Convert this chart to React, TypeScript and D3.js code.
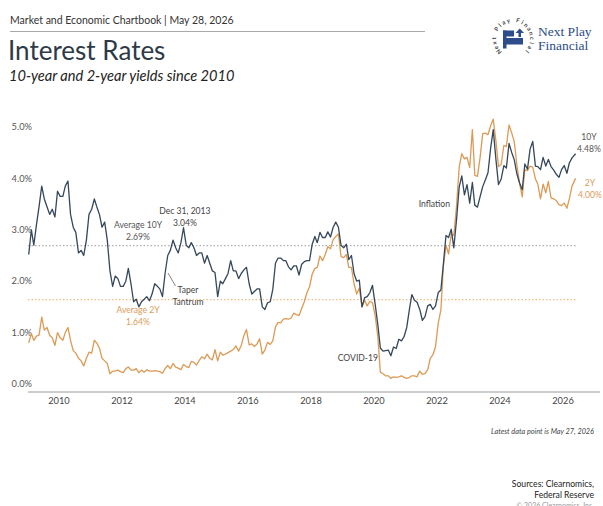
import React, { useEffect } from 'react'
import * as d3 from 'd3'

// monthly yields, Jan 2009 .. May 2026 (last point = May 27, 2026)
const tenYear = [
  2.52, 3.0, 2.7, 3.1, 3.45, 3.85, 3.6, 3.45, 3.3, 3.4, 3.25, 3.75,
  3.65, 3.65, 3.85, 3.95, 3.3, 3.05, 2.95, 2.55, 2.6, 2.5, 2.8, 3.3,
  3.4, 3.6, 3.45, 3.3, 3.05, 3.15, 2.8, 2.2, 1.9, 2.1, 2.05, 1.9,
  1.9, 2.0, 2.25, 1.95, 1.6, 1.65, 1.5, 1.6, 1.65, 1.7, 1.62, 1.75,
  1.95, 1.9, 1.85, 1.7, 2.15, 2.5, 2.6, 2.8, 2.65, 2.55, 2.75, 3.04,
  2.7, 2.65, 2.75, 2.65, 2.5, 2.55, 2.55, 2.35, 2.5, 2.35, 2.2, 2.17,
  1.7, 2.0, 1.95, 2.05, 2.15, 2.4, 2.2, 2.2, 2.05, 2.15, 2.22, 2.27,
  1.95, 1.75, 1.8, 1.85, 1.85, 1.5, 1.45, 1.58, 1.6, 1.84, 2.35, 2.45,
  2.45, 2.4, 2.4, 2.28, 2.22, 2.3, 2.3, 2.12, 2.33, 2.38, 2.4, 2.4,
  2.72, 2.87, 2.75, 2.95, 2.85, 2.85, 2.96, 2.86, 3.05, 3.15, 3.05, 2.7,
  2.65, 2.72, 2.42, 2.5, 2.15, 2.0, 2.02, 1.5, 1.68, 1.7, 1.78, 1.92,
  1.55, 1.15, 0.7, 0.64, 0.65, 0.66, 0.55, 0.72, 0.69, 0.87, 0.84, 0.92,
  1.1, 1.45, 1.74, 1.63, 1.59, 1.45, 1.24, 1.31, 1.52, 1.55, 1.45, 1.52,
  1.78, 1.83, 2.32, 2.89, 2.85, 3.01, 2.65, 3.19, 3.83, 4.05, 3.68, 3.88,
  3.52, 3.92, 3.48, 3.44, 3.64, 3.84, 3.97, 4.11, 4.59, 4.95, 4.37, 3.88,
  3.99, 4.25, 4.2, 4.68, 4.51, 4.36, 4.09, 3.91, 3.78, 4.28, 4.18, 4.57,
  4.72, 4.24, 4.23, 4.17, 4.41, 4.24, 4.37, 4.23, 4.16, 4.08, 4.02, 4.17,
  4.25, 4.1, 4.3, 4.4, 4.48,
]

const twoYear = [
  0.8, 0.98, 0.85, 0.93, 0.95, 1.3, 1.05, 1.1, 0.95, 0.9, 0.75, 1.0,
  0.9, 0.85, 1.0, 1.1, 0.85, 0.65, 0.6, 0.5, 0.45, 0.35, 0.5, 0.62,
  0.6, 0.85, 0.8, 0.7, 0.5, 0.45, 0.4, 0.2, 0.25, 0.25, 0.27, 0.24,
  0.22, 0.3, 0.33, 0.27, 0.27, 0.3, 0.22, 0.27, 0.23, 0.28, 0.25, 0.25,
  0.26, 0.25, 0.24, 0.21, 0.3, 0.36, 0.3, 0.4, 0.33, 0.31, 0.28, 0.38,
  0.34, 0.32, 0.44, 0.42, 0.37, 0.46, 0.53, 0.49, 0.58, 0.5, 0.47, 0.67,
  0.45, 0.62, 0.56, 0.58, 0.61, 0.64, 0.67, 0.74, 0.64, 0.75, 0.94, 1.06,
  0.76, 0.78, 0.73, 0.78, 0.88, 0.58, 0.66, 0.81, 0.77, 0.84, 1.11, 1.2,
  1.19, 1.26, 1.27, 1.26, 1.28, 1.38, 1.35, 1.33, 1.47, 1.6, 1.78, 1.89,
  2.14, 2.25, 2.27, 2.49, 2.4, 2.52, 2.67, 2.63, 2.81, 2.87, 2.92, 2.48,
  2.46, 2.52, 2.27, 2.27, 1.95, 1.75, 1.87, 1.5, 1.63, 1.52, 1.61, 1.58,
  1.33, 0.92, 0.23, 0.2, 0.16, 0.16, 0.11, 0.14, 0.13, 0.14, 0.16, 0.13,
  0.11, 0.13, 0.16, 0.16, 0.14, 0.25, 0.19, 0.2, 0.28, 0.5, 0.57, 0.73,
  1.18, 1.44, 2.28, 2.7, 2.53, 2.92, 2.89, 3.45, 4.22, 4.48, 4.38, 4.41,
  4.21, 4.95, 4.06, 4.04, 4.4, 4.87, 4.88, 4.85, 5.03, 5.15, 4.73, 4.23,
  4.27, 4.64, 4.62, 5.04, 4.89, 4.71, 4.26, 3.91, 3.64, 4.17, 4.15, 4.24,
  4.22, 3.99, 3.89, 3.6, 3.89, 3.72, 3.94, 3.62, 3.6, 3.57, 3.49, 3.47,
  3.52, 3.42, 3.6, 3.85, 4.0,
]

const avgTen = 2.69
const avgTwo = 1.64
const yTicks = [0, 1, 2, 3, 4, 5]
const xYears = [2010, 2012, 2014, 2016, 2018, 2020, 2022, 2024, 2026]
const ringText = 'Next Play Financial'

const TEN = '#34475b'
const TWO = '#dc9a55'
const NAVY = '#2c4c8c'
const FONT = 'Lato, "Noto Sans", sans-serif'
const SERIF = '"Liberation Serif", "DejaVu Serif", serif'

const dates = tenYear.map((_, i) =>
  i === tenYear.length - 1 ? new Date(2026, 4, 27) : new Date(2009, i, 15)
)

const App = () => {
  useEffect(() => {
    document.body.style.margin = '0'
  }, [])

  const x = d3
    .scaleTime()
    .domain([new Date(2009, 0, 1), new Date(2027, 0, 1)])
    .range([27.5, 594.5])
  const y = d3.scaleLinear().domain([0, 5]).range([384, 127])

  const line = d3
    .line<number>()
    .x((_, i) => x(dates[i]))
    .y((d) => y(d))

  const lastX = x(dates[dates.length - 1])
  const dec2013 = x(new Date(2013, 11, 31))

  // logo ring letters, clockwise from lower-left to lower-right
  const cx = 513
  const cy = 39
  const r = 17
  const ang = d3.scaleLinear().domain([0, ringText.length - 1]).range([-132, 132])
  const chars = ringText.split('')

  return (
    <svg width={603} height={506} style={{ display: 'block' }} fontFamily={FONT}>
      <rect width={603} height={506} fill="#fff" />

      {/* header */}
      <text x={10} y={24} fontSize={10.5} fill="#333">
        Market and Economic Chartbook | May 28, 2026
      </text>
      <line x1={10} x2={425} y1={31.5} y2={31.5} stroke="#aaa" strokeWidth={1} />
      <text x={8} y={60} fontSize={26} fill="#2e3a46">
        Interest Rates
      </text>
      <text x={9} y={81} fontSize={14.6} fill="#222" fontStyle="italic">
        10-year and 2-year yields since 2010
      </text>

      {/* logo */}
      <g>
        {chars.map((c, i) => {
          const a = ang(i)
          const rad = (a * Math.PI) / 180
          const px = cx + r * Math.sin(rad)
          const py = cy - r * Math.cos(rad)
          return c === ' ' ? null : (
            <text
              key={i}
              x={0}
              y={0}
              fontSize={6}
              fontWeight={700}
              fill="#444"
              textAnchor="middle"
              transform={`translate(${px},${py}) rotate(${a})`}
            >
              {c}
            </text>
          )
        })}
        <rect x={503} y={30.5} width={11} height={6} fill={NAVY} />
        <rect x={503} y={38} width={20} height={6.5} fill={NAVY} />
        <rect x={503} y={30.5} width={3.5} height={18} fill={NAVY} />
        <rect x={518.5} y={32} width={2.5} height={5} fill={NAVY} />
        <path d="M515.5,33 L519.75,28.5 L524,33 Z" fill={NAVY} />
        <text x={538} y={36} fontSize={13.5} fill={NAVY} fontFamily={SERIF}>
          Next Play
        </text>
        <text x={538} y={49.5} fontSize={13.5} fill={NAVY} fontFamily={SERIF}>
          Financial
        </text>
      </g>

      {/* y axis labels */}
      {yTicks.map((t) => (
        <text key={t} x={32} y={y(t)} dy="0.35em" fontSize={9.3} fill="#555" textAnchor="end">
          {t.toFixed(1)}%
        </text>
      ))}

      {/* x axis */}
      <line x1={28} x2={600} y1={392} y2={392} stroke="#bbb" strokeWidth={1.5} />
      {xYears.map((yr) => (
        <text key={yr} x={x(new Date(yr, 0, 1))} y={404} fontSize={9.3} fill="#444" textAnchor="middle">
          {yr}
        </text>
      ))}

      {/* averages */}
      <line x1={28} x2={lastX} y1={y(avgTen)} y2={y(avgTen)} stroke="#999" strokeWidth={1} strokeDasharray="1.5,2" />
      <line x1={28} x2={lastX} y1={y(avgTwo)} y2={y(avgTwo)} stroke="#f0aa66" strokeWidth={1} strokeDasharray="1.5,2" />

      {/* series */}
      <path d={line(twoYear) ?? ''} fill="none" stroke={TWO} strokeWidth={1.3} strokeLinejoin="round" />
      <path d={line(tenYear) ?? ''} fill="none" stroke={TEN} strokeWidth={1.3} strokeLinejoin="round" />

      {/* annotations */}
      <g fontSize={8.6} textAnchor="middle">
        <text x={138} y={228} fill="#555">Average 10Y</text>
        <text x={138} y={240} fill="#555">{avgTen.toFixed(2)}%</text>
        <text x={138} y={313} fill={TWO}>Average 2Y</text>
        <text x={138} y={325} fill={TWO}>{avgTwo.toFixed(2)}%</text>
        <text x={dec2013} y={214} fill="#444">Dec 31, 2013</text>
        <text x={dec2013} y={226} fill="#444">{tenYear[59].toFixed(2)}%</text>
        <text x={188} y={293} fill="#444">Taper</text>
        <text x={188} y={305} fill="#444">Tantrum</text>
        <text x={450} y={207} fill="#444" textAnchor="end">Inflation</text>
        <text x={378} y={361} fill="#444" textAnchor="end">COVID-19</text>
        <text x={589} y={140} fill="#555">10Y</text>
        <text x={589} y={152} fill="#555">{tenYear[tenYear.length - 1].toFixed(2)}%</text>
        <text x={590} y={186} fill={TWO}>2Y</text>
        <text x={590} y={198} fill={TWO}>{twoYear[twoYear.length - 1].toFixed(2)}%</text>
      </g>
      <line x1={168} y1={273} x2={175.5} y2={286} stroke="#666" strokeWidth={0.8} />

      {/* footer */}
      <text x={594} y={434} fontSize={7.3} fill="#444" fontStyle="italic" textAnchor="end">
        Latest data point is May 27, 2026
      </text>
      <text x={594} y={487} fontSize={8.6} fill="#222" textAnchor="end">
        Sources: Clearnomics,
      </text>
      <text x={594} y={497.5} fontSize={8.6} fill="#222" textAnchor="end">
        Federal Reserve
      </text>
      <text x={594} y={508} fontSize={7} fill="#999" textAnchor="end">
        © 2026 Clearnomics, Inc.
      </text>
    </svg>
  )
}

export default App
